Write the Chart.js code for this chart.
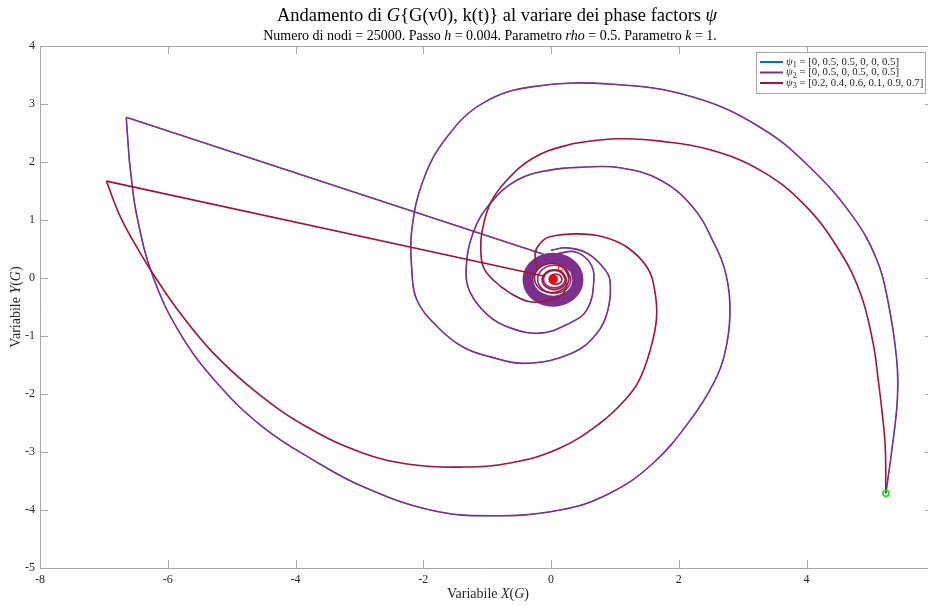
<!DOCTYPE html>
<html>
<head>
<meta charset="utf-8">
<script src="https://cdn.jsdelivr.net/npm/chart.js@4/dist/chart.umd.min.js"></script>
<style>
  html, body { margin: 0; padding: 0; background: #fff; overflow: hidden; }
  #box { width: 928px; height: 606px; position: relative; }
</style>
</head>
<body>
<div id="box"><canvas id="grafico"></canvas></div>
<script>
// traiettorie: coppie [X(G), Y(G)]

// psi2: spirale che parte dal punto iniziale
const psi2Spirale = [
  [5.24,-3.71],[5.33,-3.0],[5.42,-2.1],[5.41,-1.41],[5.27,-0.38],[5.10,0.31],[4.73,1.05],
  [4.05,1.91],[3.27,2.6],[2.22,3.12],[0.97,3.34],[-0.28,3.3],[-1.06,3.02],[-1.63,2.43],
  [-2.0,1.69],[-2.18,0.83],[-2.18,0.14],[-2.1,-0.38],[-1.78,-0.84],[-1.38,-1.19],
  [-0.95,-1.36],[-0.38,-1.47],[0.34,-1.29],[0.72,-0.95],[0.89,-0.55],[0.92,-0.03],
  [0.81,0.19],[0.56,0.43],[0.25,0.52],[0.0,0.48]
];
// psi2: salto dal centro e ramo esterno
const psi2Salto = [[-0.12,0.41],[-6.65,2.77]];
const psi2Ramo = [
  [-6.65,2.77],[-6.62,2.3],[-6.59,1.91],[-6.48,1.05],[-6.23,0.02],[-5.81,-0.95],[-5.23,-1.81],
  [-4.51,-2.57],[-3.72,-3.14],[-2.94,-3.6],[-1.89,-4.0],[-0.95,-4.1],[0.14,-4.0],[0.92,-3.71],
  [1.6,-3.19],[2.18,-2.45],[2.55,-1.8],[2.72,-1.3],[2.8,-0.6],[2.74,0.05],[2.55,0.6],
  [2.22,1.22],[1.71,1.69],[1.08,1.9],[0.49,1.91],[-0.02,1.86],[-0.53,1.69],[-0.95,1.29],
  [-1.22,0.78],[-1.33,0.14],[-1.27,-0.24],[-0.99,-0.64],[-0.64,-0.86],[-0.17,-0.95],
  [0.25,-0.8],[0.56,-0.55],[0.67,-0.03],[0.61,0.26],[0.38,0.45],[0.1,0.42]
];
// psi2: nucleo denso al centro
const psi2Nucleo = [
  [0.42,-0.03],[0.37,0.155],[0.225,0.29],[0.03,0.34],[-0.165,0.29],[-0.31,0.155],[-0.36,-0.03],
  [-0.31,-0.215],[-0.165,-0.35],[0.03,-0.40],[0.225,-0.35],[0.37,-0.215],[0.42,-0.03],
  [0.37,0.155],[0.225,0.29]
];
const psi2AnelloA = [
  [0.31,-0.02],[0.234,0.15],[0.05,0.22],[-0.134,0.15],[-0.21,-0.02],[-0.134,-0.19],
  [0.05,-0.26],[0.234,-0.19],[0.31,-0.02],[0.234,0.15]
];
const psi2AnelloB = [
  [0.22,-0.02],[0.17,0.086],[0.05,0.13],[-0.07,0.086],[-0.12,-0.02],[-0.07,-0.126],
  [0.05,-0.17],[0.17,-0.126],[0.22,-0.02],[0.17,0.086]
];

// psi3
const psi3Spirale = [
  [5.24,-3.71],[5.23,-2.9],[5.18,-2.3],[5.12,-1.75],[5.04,-1.12],[4.84,-0.26],[4.48,0.53],
  [3.94,1.29],[3.27,1.86],[2.49,2.21],[1.71,2.36],[1.11,2.4],[0.77,2.38],[0.25,2.29],
  [-0.28,2.07],[-0.69,1.69],[-0.95,1.29],[-1.08,0.8],[-1.1,0.5],[-1.06,0.19],[-0.91,-0.03],
  [-0.64,-0.26],[-0.33,-0.41],[-0.02,-0.38],[0.18,-0.28],[0.26,-0.08]
];
const psi3Salto = [[-0.1,0.03],[-6.96,1.67]];
const psi3Ramo = [
  [-6.96,1.67],[-6.74,1.05],[-6.43,0.43],[-6.17,-0.03],[-5.81,-0.6],[-5.29,-1.29],[-4.6,-1.98],
  [-3.82,-2.57],[-2.94,-3.02],[-2.16,-3.22],[-1.42,-3.26],[-0.64,-3.19],[0.14,-2.93],
  [0.77,-2.5],[1.16,-2.1],[1.38,-1.76],[1.55,-1.25],[1.65,-0.7],[1.62,-0.2],[1.5,0.19],
  [1.19,0.53],[0.81,0.71],[0.41,0.76],[-0.02,0.71],[-0.17,0.6],[-0.25,0.43],[-0.22,0.19]
];
const psi3AnelloA = [
  [0.28,0],[0.2,0.177],[0.01,0.25],[-0.18,0.177],[-0.26,0],[-0.18,-0.177],[0.01,-0.25],
  [0.2,-0.177],[0.28,0],[0.2,0.177]
];
const psi3AnelloB = [
  [0.24,-0.03],[0.184,0.09],[0.05,0.14],[-0.084,0.09],[-0.14,-0.03],[-0.084,-0.15],
  [0.05,-0.2],[0.184,-0.15],[0.24,-0.03],[0.184,0.09]
];
const psi3AnelloC = [
  [0.17,-0.02],[0.14,0.044],[0.07,0.07],[0.0,0.044],[-0.03,-0.02],[0.0,-0.084],
  [0.07,-0.11],[0.14,-0.084],[0.17,-0.02],[0.14,0.044]
];

// marcatori
const puntoIniziale = [[5.24,-3.71]];
const puntoCentro = [[0.04,-0.02]];
const puntoSecondario = [[0.15,0.17]];

// assi e legenda
const xTicks = [-8, -6, -4, -2, 0, 2, 4];
const yTicks = [-5, -4, -3, -2, -1, 0, 1, 2, 3, 4];
const legendaValori = [
  '[0, 0.5, 0.5, 0, 0, 0.5]',
  '[0, 0.5, 0, 0.5, 0, 0.5]',
  '[0.2, 0.4, 0.6, 0.1, 0.9, 0.7]'
];

const BLU = '#0072BD';
const VIOLA = '#7E2F8E';
const ROSSO = '#A2142F';
const GRIGIO = '#a6a6a6';
const TESTO = '#262626';
const SERIF = "'Liberation Serif', 'DejaVu Serif', serif";

function pts(arr) {
  return arr.map(p => ({ x: p[0], y: p[1] }));
}

function linea(arr, colore, extra) {
  return Object.assign({
    data: pts(arr),
    showLine: true,
    borderColor: colore,
    backgroundColor: colore,
    borderWidth: 1.6,
    pointRadius: 0,
    tension: 0.4,
    fill: false
  }, extra || {});
}

// testo con tratti in corsivo e pedici
function drawRich(ctx, segs, x, y, align, size) {
  const fontOf = k => k === 'i' ? `italic ${size}px ${SERIF}`
    : k === 's' ? `${Math.round(size * 0.7)}px ${SERIF}` : `${size}px ${SERIF}`;
  let w = 0;
  segs.forEach(([t, k]) => { ctx.font = fontOf(k); w += ctx.measureText(t).width; });
  let cx = align === 'center' ? x - w / 2 : x;
  ctx.textAlign = 'left';
  ctx.textBaseline = 'middle';
  segs.forEach(([t, k]) => {
    ctx.font = fontOf(k);
    ctx.fillText(t, cx, k === 's' ? y + size * 0.28 : y);
    cx += ctx.measureText(t).width;
  });
}

const decorazioni = {
  id: 'decorazioni',
  afterDraw(chart) {
    const ctx = chart.ctx;
    const a = chart.chartArea;
    const sx = chart.scales.x, sy = chart.scales.y;
    ctx.save();

    // cornice e tacche interne
    ctx.strokeStyle = GRIGIO;
    ctx.lineWidth = 1;
    ctx.beginPath();
    ctx.moveTo(a.left + 0.5, a.top + 0.5);
    ctx.lineTo(a.left + 0.5, a.bottom + 0.5);
    ctx.lineTo(a.right, a.bottom + 0.5);
    ctx.moveTo(a.left + 0.5, a.top + 0.5);
    ctx.lineTo(a.right, a.top + 0.5);
    xTicks.forEach(v => {
      const p = Math.round(sx.getPixelForValue(v)) + 0.5;
      ctx.moveTo(p, a.bottom); ctx.lineTo(p, a.bottom - 8);
      ctx.moveTo(p, a.top); ctx.lineTo(p, a.top + 8);
    });
    yTicks.forEach(v => {
      const p = Math.round(sy.getPixelForValue(v)) + 0.5;
      ctx.moveTo(a.left, p); ctx.lineTo(a.left + 8, p);
      ctx.moveTo(a.right, p); ctx.lineTo(a.right - 3, p);
    });
    ctx.stroke();

    // titoli
    ctx.fillStyle = '#000';
    drawRich(ctx, [['Andamento di ', 'n'], ['G', 'i'],
      ['{G(v0), k(t)} al variare dei phase factors ', 'n'], ['ψ', 'i']], 497, 16, 'center', 18.5);
    drawRich(ctx, [['Numero di nodi = 25000. Passo ', 'n'], ['h', 'i'], [' = 0.004. Parametro ', 'n'],
      ['rho', 'i'], [' = 0.5. Parametro ', 'n'], ['k', 'i'], [' = 1.', 'n']], 490, 36, 'center', 14);

    ctx.fillStyle = TESTO;
    drawRich(ctx, [['Variabile ', 'n'], ['X', 'i'], ['(', 'n'], ['G', 'i'], [')', 'n']], 488, 594, 'center', 14);
    ctx.save();
    ctx.translate(16, 307);
    ctx.rotate(-Math.PI / 2);
    drawRich(ctx, [['Variabile ', 'n'], ['Y', 'i'], ['(', 'n'], ['G', 'i'], [')', 'n']], 0, 0, 'center', 14);
    ctx.restore();

    // legenda
    ctx.fillStyle = '#fff';
    ctx.fillRect(756.5, 52.5, 169, 41);
    ctx.strokeStyle = GRIGIO;
    ctx.strokeRect(756.5, 52.5, 169, 41);
    const colori = [BLU, VIOLA, ROSSO];
    const righe = [62, 72.5, 83];
    legendaValori.forEach((txt, i) => {
      ctx.strokeStyle = colori[i];
      ctx.lineWidth = 2;
      ctx.beginPath();
      ctx.moveTo(760, righe[i]); ctx.lineTo(783, righe[i]);
      ctx.stroke();
      ctx.fillStyle = TESTO;
      drawRich(ctx, [['ψ', 'i'], [String(i + 1), 's'], [' = ' + txt, 'n']], 786, righe[i], 'left', 10.8);
    });
    ctx.restore();
  }
};

const datasets = [
  // marcatori in primo piano
  linea(puntoCentro, '#ff0000', { showLine: false, pointRadius: 3.5, pointBackgroundColor: '#ff0000', pointBorderColor: '#ff0000' }),
  linea(puntoSecondario, '#ff0000', { showLine: false, pointRadius: 2.5, pointBackgroundColor: 'rgba(0,0,0,0)', pointBorderColor: '#ff0000', pointBorderWidth: 1 }),
  linea(puntoIniziale, '#00ff00', { showLine: false, pointRadius: 3, pointBackgroundColor: 'rgba(0,0,0,0)', pointBorderColor: '#00ee00', pointBorderWidth: 1.5 }),
  // psi3
  linea(psi3AnelloC, ROSSO),
  linea(psi3AnelloB, ROSSO),
  linea(psi3AnelloA, ROSSO),
  linea(psi3Spirale, ROSSO),
  linea(psi3Salto, ROSSO, { tension: 0 }),
  linea(psi3Ramo, ROSSO),
  // psi2
  linea(psi2AnelloB, VIOLA),
  linea(psi2AnelloA, VIOLA),
  linea(psi2Nucleo, VIOLA, { borderWidth: 11 }),
  linea(psi2Spirale, VIOLA),
  linea(psi2Salto, VIOLA, { tension: 0 }),
  linea(psi2Ramo, VIOLA),
  // psi1 coincide con psi2 e resta sotto (più sottile per non colorarne i bordi)
  linea(psi2Spirale, BLU, { borderWidth: 0.8 }),
  linea(psi2Salto, BLU, { tension: 0, borderWidth: 0.8 }),
  linea(psi2Ramo, BLU, { borderWidth: 0.8 })
];

new Chart(document.getElementById('grafico'), {
  type: 'scatter',
  data: { datasets },
  options: {
    responsive: true,
    maintainAspectRatio: false,
    animation: false,
    layout: { autoPadding: false, padding: { top: 46, right: 0, left: 0, bottom: 0 } },
    plugins: { legend: { display: false }, tooltip: { enabled: false }, title: { display: false } },
    scales: {
      x: {
        type: 'linear', min: -8, max: 5.9,
        afterBuildTicks: s => { s.ticks = xTicks.map(v => ({ value: v })); },
        afterFit: s => { s.height = 38; s.paddingLeft = 0; s.paddingRight = 0; },
        ticks: { callback: v => String(v), color: TESTO, font: { family: SERIF, size: 12 }, padding: 5, maxRotation: 0, autoSkip: false },
        grid: { display: false, drawTicks: false },
        border: { display: false }
      },
      y: {
        type: 'linear', min: -5, max: 4,
        afterBuildTicks: s => { s.ticks = yTicks.map(v => ({ value: v })); },
        afterFit: s => { s.width = 40; s.paddingTop = 0; s.paddingBottom = 0; },
        ticks: { callback: v => String(v), color: TESTO, font: { family: SERIF, size: 12 }, padding: 5, autoSkip: false },
        grid: { display: false, drawTicks: false },
        border: { display: false }
      }
    }
  },
  plugins: [decorazioni]
});
</script>
</body>
</html>
